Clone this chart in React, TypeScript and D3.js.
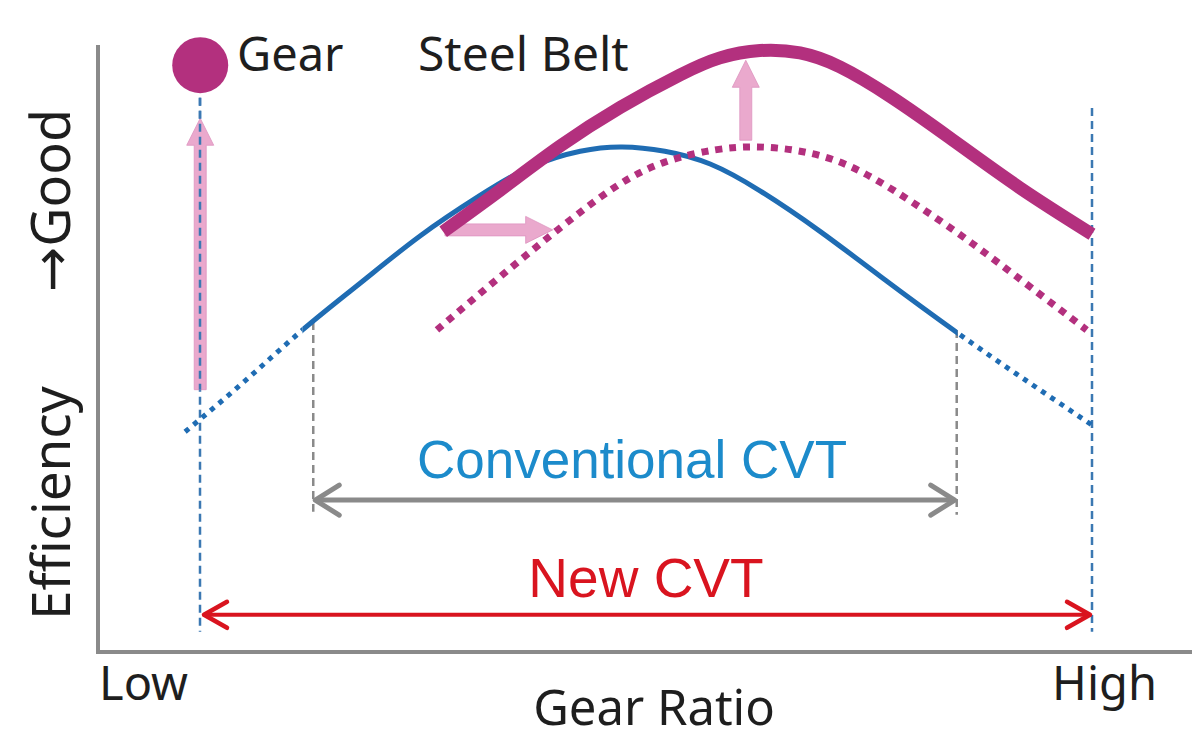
import React from "react";
import * as d3 from "d3";

// Gear ratio (0 = Low, 100 = High) vs efficiency (0..100)
const conventionalCurve: [number, number][] = [
  [-1.9, 36.1], [4.8, 44.4], [11.3, 52.8], [17.8, 60.5], [24.5, 68.2], [31.2, 74.8],
  [36.9, 79.5], [42.5, 82.1], [47.2, 82.8], [52.0, 82.1], [57.1, 80.0], [62.7, 75.6],
  [69.4, 69.0], [76.2, 61.6], [84.9, 52.3], [92.5, 44.6], [100, 37.2],
];
const oldBeltCurve: [number, number][] = [
  [26.4, 52.8], [32.9, 60.8], [39.7, 68.9], [46.4, 76.2], [52.0, 80.3], [57.6, 82.3],
  [62.4, 82.8], [67.2, 82.1], [72.2, 80.0], [77.8, 75.6], [84.6, 69.0], [91.3, 61.8],
  [99.4, 52.8],
];
const newBeltCurve: [number, number][] = [
  [27.1, 68.9], [33.5, 75.7], [40.2, 82.9], [47.0, 89.3], [53.7, 94.6], [58.2, 97.4],
  [62.7, 98.6], [67.2, 98.2], [71.7, 95.9], [77.3, 91.1], [84.0, 84.3], [91.9, 76.1],
  [100, 68.5],
];
const conventionalRange: [number, number] = [11.3, 84.9];
const conventionalBounds: [number, number] = [12.5, 84.8];
const newRange: [number, number] = [0, 100];
const gearPoint: [number, number] = [-0.2, 96.2];
// improvement arrows: [x1, y1, x2, y2]
const improveArrows: [number, number, number, number][] = [
  [-0.2, 43.0, -0.2, 87.5],
  [27.3, 69.2, 39.4, 69.2],
  [61.1, 83.9, 61.1, 97.0],
];
const xTickLabels = ["Low", "High"];
const xAxisTitle = "Gear Ratio";
const yAxisTitle = ["Efficiency", "→Good"];
const seriesLabels = ["Gear", "Steel Belt"];
const rangeLabels = ["Conventional CVT", "New CVT"];

const W = 1200, H = 745;
const x = d3.scaleLinear().domain([0, 100]).range([202, 1092]);
const y = d3.scaleLinear().domain([0, 100]).range([652, 42]);
const line = d3.line<[number, number]>().x(d => x(d[0])).y(d => y(d[1])).curve(d3.curveNatural);

const BLUE = "#1f6cb3";
const MAGENTA = "#b3307e";
const LIGHTPINK = "#eaa9cd";
const GRAY = "#8a8a8a";
const RED = "#d9141f";
const TEXT = "#1e1e1e";
const SANS = "'Noto Sans', 'DejaVu Sans', sans-serif";
const ARIAL = "'Liberation Sans', Arial, sans-serif";

function blockArrow(x1: number, y1: number, x2: number, y2: number, shaft: number, headW: number, headL: number) {
  const dx = x2 - x1, dy = y2 - y1;
  const len = Math.hypot(dx, dy);
  const ux = dx / len, uy = dy / len;
  const px = -uy, py = ux;
  const bx = x2 - ux * headL, by = y2 - uy * headL;
  const s = shaft / 2, h = headW / 2;
  const pts = [
    [x1 + px * s, y1 + py * s], [bx + px * s, by + py * s], [bx + px * h, by + py * h],
    [x2, y2], [bx - px * h, by - py * h], [bx - px * s, by - py * s], [x1 - px * s, y1 - py * s],
  ];
  return "M" + pts.map(p => p.join(",")).join("L") + "Z";
}

function chevron(tx: number, ty: number, dir: number, back: number, half: number) {
  return `M${tx + dir * back},${ty - half}L${tx},${ty}L${tx + dir * back},${ty + half}`;
}

export default function App() {
  const convY = y(24.9);
  const newY = y(6.1);
  const convPath = line(conventionalCurve) || "";
  return (
    <svg width={W} height={H} style={{ position: "absolute", left: 0, top: 0, background: "#fff" }}>
      <defs>
        <clipPath id="solidClip">
          <rect x={x(conventionalRange[0])} y={0} width={x(conventionalRange[1]) - x(conventionalRange[0])} height={H} />
        </clipPath>
        <clipPath id="dotLeft">
          <rect x={0} y={0} width={x(conventionalRange[0])} height={H} />
        </clipPath>
        <clipPath id="dotRight">
          <rect x={x(conventionalRange[1])} y={0} width={W} height={H} />
        </clipPath>
      </defs>

      {/* axes */}
      <path d={`M98,45L98,652L1192,652`} fill="none" stroke={GRAY} strokeWidth={4} />

      {/* vertical reference lines */}
      <line x1={x(newRange[0]) - 2} x2={x(newRange[0]) - 2} y1={y(93)} y2={y(3.3)} stroke="#3b78b2" strokeWidth={2.5} strokeDasharray="8 5" />
      <line x1={x(newRange[1])} x2={x(newRange[1])} y1={y(89.2)} y2={y(3.3)} stroke="#3b78b2" strokeWidth={2.5} strokeDasharray="8 5" />
      <line x1={x(conventionalBounds[0])} x2={x(conventionalBounds[0])} y1={y(54.1)} y2={y(23.0)} stroke={GRAY} strokeWidth={2.5} strokeDasharray="8 5" />
      <line x1={x(conventionalBounds[1])} x2={x(conventionalBounds[1])} y1={y(52.8)} y2={y(22.5)} stroke={GRAY} strokeWidth={2.5} strokeDasharray="8 5" />

      {/* improvement arrows */}
      {improveArrows.map((a, i) => (
        <path key={i} d={blockArrow(x(a[0]), y(a[1]), x(a[2]), y(a[3]), 12, 27, 27)} fill={LIGHTPINK} stroke="#dd93bf" strokeWidth={0.8} />
      ))}
      {/* dashed line shows through the gear arrow */}
      <line x1={x(newRange[0]) - 2} x2={x(newRange[0]) - 2} y1={y(93)} y2={y(43)} stroke="#3b78b2" strokeWidth={2.5} strokeDasharray="8 5" />

      {/* conventional belt curve */}
      <path d={convPath} fill="none" stroke={BLUE} strokeWidth={5} clipPath="url(#solidClip)" />
      <path d={convPath} fill="none" stroke={BLUE} strokeWidth={5} strokeDasharray="5 6" clipPath="url(#dotLeft)" />
      <path d={convPath} fill="none" stroke={BLUE} strokeWidth={5} strokeDasharray="5 6" clipPath="url(#dotRight)" />

      {/* old belt shifted */}
      <path d={line(oldBeltCurve) || ""} fill="none" stroke={MAGENTA} strokeWidth={7} strokeDasharray="7 7" />

      {/* new steel belt */}
      <path d={line(newBeltCurve) || ""} fill="none" stroke={MAGENTA} strokeWidth={13} />

      {/* gear point */}
      <circle cx={x(gearPoint[0])} cy={y(gearPoint[1])} r={28} fill={MAGENTA} />

      {/* range arrows */}
      <line x1={x(conventionalBounds[0]) + 3} x2={x(conventionalBounds[1]) - 3} y1={convY} y2={convY} stroke={GRAY} strokeWidth={5} />
      <path d={chevron(x(conventionalBounds[0]) + 2, convY, 1, 24, 15)} fill="none" stroke={GRAY} strokeWidth={5} strokeLinecap="round" strokeLinejoin="round" />
      <path d={chevron(x(conventionalBounds[1]) - 2, convY, -1, 24, 15)} fill="none" stroke={GRAY} strokeWidth={5} strokeLinecap="round" strokeLinejoin="round" />
      <line x1={x(newRange[0]) + 2} x2={x(newRange[1]) - 2} y1={newY} y2={newY} stroke={RED} strokeWidth={4} />
      <path d={chevron(x(newRange[0]) + 2, newY, 1, 23, 13)} fill="none" stroke={RED} strokeWidth={4.5} strokeLinecap="round" strokeLinejoin="round" />
      <path d={chevron(x(newRange[1]) - 2, newY, -1, 23, 13)} fill="none" stroke={RED} strokeWidth={4.5} strokeLinecap="round" strokeLinejoin="round" />

      {/* texts */}
      <text x={237} y={71} fontFamily={SANS} fontSize={47} fill={TEXT}>{seriesLabels[0]}</text>
      <text x={418} y={71} fontFamily={SANS} fontSize={48} fill={TEXT}>{seriesLabels[1]}</text>
      <text x={632} y={478} textAnchor="middle" fontFamily={ARIAL} fontSize={53} fill="#1c8bcb">{rangeLabels[0]}</text>
      <text x={646} y={597} textAnchor="middle" fontFamily={ARIAL} fontSize={55} fill={RED}>{rangeLabels[1]}</text>
      <text x={99} y={700} fontFamily={SANS} fontSize={47} fill={TEXT}>{xTickLabels[0]}</text>
      <text x={1157} y={700} textAnchor="end" fontFamily={SANS} fontSize={47} fill={TEXT}>{xTickLabels[1]}</text>
      <text x={654} y={725} textAnchor="middle" fontFamily={SANS} fontSize={49} fill={TEXT}>{xAxisTitle}</text>
      <text transform="translate(70,620) rotate(-90)" fontFamily={SANS} fontSize={53} fill={TEXT}>{yAxisTitle[0]}</text>
      <text transform="translate(70,292) rotate(-90)" fontFamily={SANS} fontSize={54} fill={TEXT}>{yAxisTitle[1]}</text>
    </svg>
  );
}
